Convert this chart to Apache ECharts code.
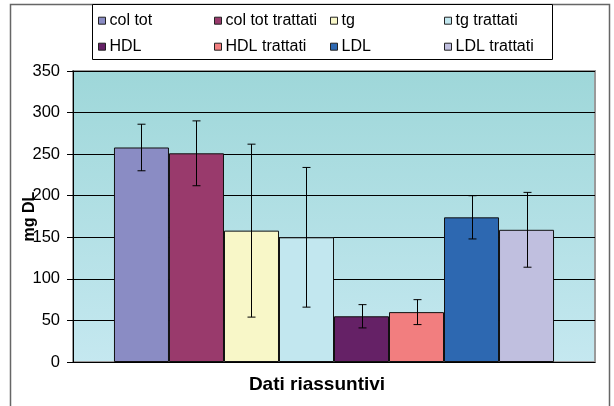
<!DOCTYPE html>
<html>
<head>
<meta charset="utf-8">
<script src="https://cdn.jsdelivr.net/npm/echarts@6/dist/echarts.min.js"></script>
<style>
html,body{margin:0;padding:0;background:#fff;}
#chart{width:614px;height:406px;}
</style>
</head>
<body>
<div id="chart"></div>
<script>
const categories = [''];
const seriesNames = ['col tot','col tot trattati','tg','tg trattati','HDL','HDL trattati','LDL','LDL trattati'];
const means = [258, 251, 158, 150, 55, 60, 174, 159];
const errors = [28, 39, 104, 84, 14, 15, 26, 45];
const colors = ['#8A8CC4','#993A6C','#F8F7C8','#C2E7EF','#652166','#F27E7F','#2D68B1','#C0BFDF'];
const yTicks = [0, 50, 100, 150, 200, 250, 300, 350];

const FONT = '"Liberation Sans", Arial, sans-serif';
const CAT_GAP = 0.157;

const chart = echarts.init(document.getElementById('chart'), null, {renderer:'canvas'});

const barSeries = seriesNames.map((n, i) => ({
  name: n,
  type: 'bar',
  data: [means[i]],
  barGap: '0%',
  barCategoryGap: (CAT_GAP * 100) + '%',
  itemStyle: {color: colors[i], borderColor: '#111', borderWidth: 1},
  emphasis: {disabled: true},
  z: 2
}));

const errData = means.map((m, i) => [0, m - errors[i], m + errors[i], i]);

const errSeries = {
  type: 'custom',
  data: errData,
  encode: {x: 0, y: [1, 2]},
  z: 5,
  silent: true,
  clip: false,
  renderItem: function (params, api) {
    const idx = api.value(3);
    const center = api.coord([0, 0]);
    const band = api.size([1, 0])[0];
    const group = band * (1 - CAT_GAP);
    const bw = group / seriesNames.length;
    const x = Math.round(center[0] - group / 2 + bw * (idx + 0.5)) + 0.5;
    const yl = api.coord([0, api.value(1)])[1];
    const yh = api.coord([0, api.value(2)])[1];
    const st = {stroke: '#000', lineWidth: 1};
    return {
      type: 'group',
      children: [
        {type: 'line', shape: {x1: x, y1: yh, x2: x, y2: yl}, style: st},
        {type: 'line', shape: {x1: x - 4, y1: yh, x2: x + 4, y2: yh}, style: st},
        {type: 'line', shape: {x1: x - 4, y1: yl, x2: x + 4, y2: yl}, style: st}
      ]
    };
  }
};

const legendCols = [98, 214, 330, 444];
const legendRows = [12.7, 38.7];
const legends = seriesNames.map((n, i) => ({
  data: [n],
  left: legendCols[i % 4],
  top: legendRows[Math.floor(i / 4)],
  orient: 'horizontal',
  padding: 0,
  itemWidth: 7,
  itemHeight: 7,
  icon: 'rect',
  selectedMode: false,
  itemStyle: {borderColor: '#222', borderWidth: 1},
  textStyle: {fontFamily: FONT, fontSize: 16, color: '#000', lineHeight: 16, padding: [0, 0, 0, -1]}
}));

chart.setOption({
  animation: false,
  backgroundColor: '#fff',
  grid: {
    left: 73, right: 19, top: 71, bottom: 44,
    show: true,
    backgroundColor: new echarts.graphic.LinearGradient(0, 0, 0, 1, [
      {offset: 0, color: '#9ED7D9'},
      {offset: 1, color: '#C5E8F0'}
    ]),
    borderColor: '#9a9a9a',
    borderWidth: 2
  },
  legend: legends,
  graphic: [
    {type: 'rect', z: 0, shape: {x: 10.5, y: 4.5, width: 599, height: 420}, style: {fill: 'none', stroke: '#666', lineWidth: 1.5}},
    {type: 'rect', z: 1, shape: {x: 92.5, y: 4.5, width: 460, height: 55}, style: {fill: '#fff', stroke: '#000', lineWidth: 1}},
    {type: 'text', z: 3, x: 317, y: 385, style: {text: 'Dati riassuntivi', fontFamily: FONT, fontSize: 19, fontWeight: 'bold', fill: '#000', textAlign: 'center', textVerticalAlign: 'middle'}}
  ],
  xAxis: {
    type: 'category',
    data: categories,
    axisLine: {lineStyle: {color: '#000', width: 1}},
    axisTick: {show: false},
    axisLabel: {show: false},
    splitLine: {show: false}
  },
  yAxis: {
    type: 'value',
    min: yTicks[0],
    max: yTicks[yTicks.length - 1],
    interval: yTicks[1] - yTicks[0],
    name: 'mg DL',
    nameLocation: 'middle',
    nameGap: 35,
    nameMoveOverlap: false,
    nameTextStyle: {fontFamily: FONT, fontSize: 16, fontWeight: 'bold', color: '#000'},
    axisLine: {show: true, lineStyle: {color: '#000', width: 1}},
    axisTick: {show: true, length: 6, lineStyle: {color: '#000'}},
    axisLabel: {fontFamily: FONT, fontSize: 16.5, color: '#000', margin: 13},
    splitLine: {show: true, lineStyle: {color: '#000', width: 1}}
  },
  series: barSeries.concat([errSeries])
});
</script>
</body>
</html>
